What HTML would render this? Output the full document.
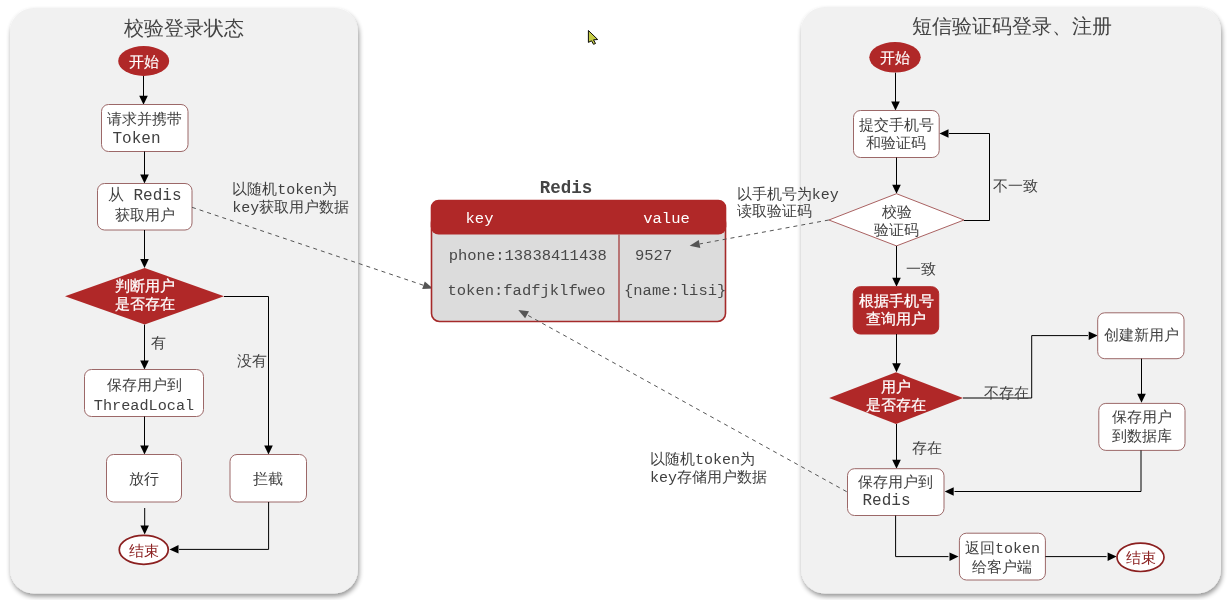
<!DOCTYPE html>
<html><head><meta charset="utf-8"><style>
html,body{margin:0;padding:0;background:#fff;width:1230px;height:600px;overflow:hidden;}
svg{display:block;will-change:transform;}
text{font-family:"Liberation Mono", monospace;}
</style></head><body>
<svg width="1230" height="600" viewBox="0 0 1230 600">
<defs><filter id="sh" x="-5%" y="-5%" width="110%" height="110%"><feGaussianBlur in="SourceAlpha" stdDeviation="2.4"/><feOffset dx="1" dy="2.5" result="b"/><feComponentTransfer><feFuncA type="linear" slope="0.42"/></feComponentTransfer><feMerge><feMergeNode/><feMergeNode in="SourceGraphic"/></feMerge></filter></defs>
<rect width="1230" height="600" fill="#ffffff"/>
<rect x="10" y="8" width="348" height="585.5" rx="24" fill="#f1f1f1" filter="url(#sh)"/>
<rect x="801" y="7" width="420" height="586.5" rx="24" fill="#f1f1f1" filter="url(#sh)"/>
<text x="183.5" y="35" font-size="20" fill="#444" text-anchor="middle" font-weight="normal" font-family="'Liberation Sans', sans-serif">校验登录状态</text>
<text x="1011.7" y="32.5" font-size="20" fill="#444" text-anchor="middle" font-weight="normal" font-family="'Liberation Sans', sans-serif">短信验证码登录、注册</text>
<ellipse cx="143.7" cy="61" rx="25.5" ry="15" fill="#b02828"/>
<text x="143.7" y="66.5" font-size="15" fill="#fff" text-anchor="middle" font-weight="normal" font-family="'Liberation Sans', sans-serif" stroke="#fff" stroke-width="0.15">开始</text>
<polyline points="143.5,76 143.5,96.7" fill="none" stroke="#000" stroke-width="1"/>
<polygon points="143.5,104.7 139.2,95.7 147.8,95.7" fill="#000"/>
<rect x="101.5" y="104.5" width="86.5" height="47.0" rx="7" fill="#ffffff" stroke="#9c6868" stroke-width="1"/>
<text x="144.7" y="123.5" font-size="15" fill="#404040" text-anchor="middle" font-weight="normal" font-family="'Liberation Sans', sans-serif">请求并携带</text>
<text x="112.5" y="143" font-size="16" fill="#404040" text-anchor="start" font-weight="normal" font-family="'Liberation Mono', monospace">Token</text>
<polyline points="144.5,151.5 144.5,175.5" fill="none" stroke="#000" stroke-width="1"/>
<polygon points="144.5,183.5 140.2,174.5 148.8,174.5" fill="#000"/>
<rect x="97.5" y="183.5" width="94.5" height="46.5" rx="7" fill="#ffffff" stroke="#9c6868" stroke-width="1"/>
<text x="144.7" y="199.5" font-size="16" fill="#404040" text-anchor="middle" font-weight="normal" font-family="'Liberation Mono', monospace">从 Redis</text>
<text x="144.7" y="219.5" font-size="15" fill="#404040" text-anchor="middle" font-weight="normal" font-family="'Liberation Sans', sans-serif">获取用户</text>
<polyline points="144.5,230 144.5,260" fill="none" stroke="#000" stroke-width="1"/>
<polygon points="144.5,268.0 140.2,259.0 148.8,259.0" fill="#000"/>
<polygon points="65,296.3 144.7,268 224,296.3 144.7,324.5" fill="#b02828"/>
<text x="144.7" y="291" font-size="15" fill="#fff" text-anchor="middle" font-weight="normal" font-family="'Liberation Sans', sans-serif" stroke="#fff" stroke-width="0.25">判断用户</text>
<text x="144.7" y="309" font-size="15" fill="#fff" text-anchor="middle" font-weight="normal" font-family="'Liberation Sans', sans-serif" stroke="#fff" stroke-width="0.25">是否存在</text>
<polyline points="144.5,324.6 144.5,361.5" fill="none" stroke="#000" stroke-width="1"/>
<polygon points="144.5,369.5 140.2,360.5 148.8,360.5" fill="#000"/>
<text x="158" y="347.5" font-size="15" fill="#404040" text-anchor="middle" font-weight="normal" font-family="'Liberation Sans', sans-serif">有</text>
<polyline points="224,296.5 268.5,296.5 268.5,446" fill="none" stroke="#000" stroke-width="1"/>
<polygon points="268.5,454.5 264.2,445.5 272.8,445.5" fill="#000"/>
<text x="251.5" y="366" font-size="15" fill="#404040" text-anchor="middle" font-weight="normal" font-family="'Liberation Sans', sans-serif">没有</text>
<rect x="84.5" y="369.5" width="119.0" height="47.0" rx="7" fill="#ffffff" stroke="#9c6868" stroke-width="1"/>
<text x="144" y="390" font-size="15" fill="#404040" text-anchor="middle" font-weight="normal" font-family="'Liberation Sans', sans-serif">保存用户到</text>
<text x="144" y="410.3" font-size="15.2" fill="#404040" text-anchor="middle" font-weight="normal" font-family="'Liberation Mono', monospace">ThreadLocal</text>
<polyline points="144.5,416.5 144.5,446.5" fill="none" stroke="#000" stroke-width="1"/>
<polygon points="144.5,454.5 140.2,445.5 148.8,445.5" fill="#000"/>
<rect x="106.5" y="454.5" width="75.0" height="47.5" rx="7" fill="#ffffff" stroke="#9c6868" stroke-width="1"/>
<text x="144" y="484" font-size="15" fill="#404040" text-anchor="middle" font-weight="normal" font-family="'Liberation Sans', sans-serif">放行</text>
<rect x="230" y="454.5" width="76.5" height="47.5" rx="7" fill="#ffffff" stroke="#9c6868" stroke-width="1"/>
<text x="268.3" y="484" font-size="15" fill="#404040" text-anchor="middle" font-weight="normal" font-family="'Liberation Sans', sans-serif">拦截</text>
<polyline points="144.7,508 144.7,526.5" fill="none" stroke="#000" stroke-width="1"/>
<polygon points="144.7,534.5 140.4,525.5 148.9,525.5" fill="#000"/>
<ellipse cx="143.75" cy="549.85" rx="24.5" ry="14.5" fill="#fff" stroke="#8b2020" stroke-width="1.7"/>
<text x="143.75" y="555.5" font-size="15" fill="#8b2020" text-anchor="middle" font-weight="normal" font-family="'Liberation Sans', sans-serif">结束</text>
<polyline points="268.6,502 268.6,549.4 179,549.4" fill="none" stroke="#000" stroke-width="1"/>
<polygon points="169.5,549.4 178.5,545.1 178.5,553.6" fill="#000"/>
<text x="232.3" y="194" font-size="15" fill="#404040" text-anchor="start" font-weight="normal" font-family="'Liberation Mono', monospace">以随机token为</text>
<text x="232.3" y="211.5" font-size="15" fill="#404040" text-anchor="start" font-weight="normal" font-family="'Liberation Mono', monospace">key获取用户数据</text>
<polyline points="192,207.3 423.5234402738757,285.30706784331414" fill="none" stroke="#555" stroke-width="1" stroke-dasharray="4,4"/>
<polygon points="433.0,288.5 422.2,289.1 424.8,281.5" fill="#555"/>
<text x="566" y="192.8" font-size="17.5" fill="#444" text-anchor="middle" font-weight="bold" font-family="'Liberation Mono', monospace">Redis</text>
<rect x="431.5" y="215" width="294" height="106.5" rx="8" fill="#dcdcdc" stroke="#a52a2a" stroke-width="1.6"/>
<rect x="430.7" y="199.7" width="295.6" height="34.8" rx="8" fill="#b02828"/>
<line x1="619" y1="234.6" x2="619" y2="322" stroke="#a03030" stroke-width="1.2"/>
<text x="479.5" y="222.5" font-size="15.5" fill="#fff" text-anchor="middle" font-weight="normal" font-family="'Liberation Mono', monospace">key</text>
<text x="666.5" y="222.5" font-size="15.5" fill="#fff" text-anchor="middle" font-weight="normal" font-family="'Liberation Mono', monospace">value</text>
<text x="448.7" y="260" font-size="15.5" fill="#484848" text-anchor="start" font-weight="normal" font-family="'Liberation Mono', monospace">phone:13838411438</text>
<text x="635" y="260" font-size="15.5" fill="#484848" text-anchor="start" font-weight="normal" font-family="'Liberation Mono', monospace">9527</text>
<text x="447.5" y="295" font-size="15.5" fill="#484848" text-anchor="start" font-weight="normal" font-family="'Liberation Mono', monospace">token:fadfjklfweo</text>
<text x="624" y="295" font-size="15.5" fill="#484848" text-anchor="start" font-weight="normal" font-family="'Liberation Mono', monospace">{name:lisi}</text>
<text x="736.7" y="198.5" font-size="15" fill="#404040" text-anchor="start" font-weight="normal" font-family="'Liberation Mono', monospace">以手机号为key</text>
<text x="736.7" y="215.5" font-size="15" fill="#404040" text-anchor="start" font-weight="normal" font-family="'Liberation Sans', sans-serif">读取验证码</text>
<polyline points="828.8,220 699.5323040478015,243.9763231888334" fill="none" stroke="#555" stroke-width="1" stroke-dasharray="4,4"/>
<polygon points="689.7,245.8 698.8,240.0 700.3,247.9" fill="#555"/>
<polyline points="846.7,491.7 527.0499802173675,314.841264937563" fill="none" stroke="#555" stroke-width="1" stroke-dasharray="4,4"/>
<polygon points="518.3,310.0 529.0,311.3 525.1,318.3" fill="#555"/>
<text x="650" y="463.5" font-size="15" fill="#404040" text-anchor="start" font-weight="normal" font-family="'Liberation Mono', monospace">以随机token为</text>
<text x="650" y="481.5" font-size="15" fill="#404040" text-anchor="start" font-weight="normal" font-family="'Liberation Mono', monospace">key存储用户数据</text>
<ellipse cx="895" cy="57.3" rx="25.7" ry="15.3" fill="#b02828"/>
<text x="895" y="63" font-size="15" fill="#fff" text-anchor="middle" font-weight="normal" font-family="'Liberation Sans', sans-serif" stroke="#fff" stroke-width="0.15">开始</text>
<polyline points="895.5,72.7 895.5,102.5" fill="none" stroke="#000" stroke-width="1"/>
<polygon points="895.5,110.5 891.2,101.5 899.8,101.5" fill="#000"/>
<rect x="853.5" y="110.5" width="85.70000000000005" height="47.0" rx="7" fill="#ffffff" stroke="#9c6868" stroke-width="1"/>
<text x="896.3" y="130" font-size="15" fill="#404040" text-anchor="middle" font-weight="normal" font-family="'Liberation Sans', sans-serif">提交手机号</text>
<text x="896.3" y="148" font-size="15" fill="#404040" text-anchor="middle" font-weight="normal" font-family="'Liberation Sans', sans-serif">和验证码</text>
<polyline points="896.5,157.5 896.5,185.7" fill="none" stroke="#000" stroke-width="1"/>
<polygon points="896.5,193.7 892.2,184.7 900.8,184.7" fill="#000"/>
<polygon points="828.9,220 896.5,193.7 964,220 896.5,245.9" fill="#fff" stroke="#a05050" stroke-width="0.9"/>
<text x="896.5" y="217" font-size="15" fill="#404040" text-anchor="middle" font-weight="normal" font-family="'Liberation Sans', sans-serif">校验</text>
<text x="896.5" y="235" font-size="15" fill="#404040" text-anchor="middle" font-weight="normal" font-family="'Liberation Sans', sans-serif">验证码</text>
<polyline points="964,220.5 989.5,220.5 989.5,133.5 949,133.5" fill="none" stroke="#000" stroke-width="1"/>
<polygon points="939.5,133.5 948.5,129.2 948.5,137.8" fill="#000"/>
<text x="1015" y="191" font-size="15" fill="#404040" text-anchor="middle" font-weight="normal" font-family="'Liberation Sans', sans-serif">不一致</text>
<polyline points="896.5,245.9 896.5,278.7" fill="none" stroke="#000" stroke-width="1"/>
<polygon points="896.5,286.7 892.2,277.7 900.8,277.7" fill="#000"/>
<text x="921" y="273.5" font-size="15" fill="#404040" text-anchor="middle" font-weight="normal" font-family="'Liberation Sans', sans-serif">一致</text>
<rect x="853.2" y="286.7" width="85.5" height="47.30000000000001" rx="7" fill="#b02828" stroke="#b02828" stroke-width="1"/>
<text x="896" y="305.5" font-size="15" fill="#fff" text-anchor="middle" font-weight="normal" font-family="'Liberation Sans', sans-serif" stroke="#fff" stroke-width="0.25">根据手机号</text>
<text x="896" y="324" font-size="15" fill="#fff" text-anchor="middle" font-weight="normal" font-family="'Liberation Sans', sans-serif" stroke="#fff" stroke-width="0.25">查询用户</text>
<polyline points="896.5,334 896.5,364.3" fill="none" stroke="#000" stroke-width="1"/>
<polygon points="896.5,372.3 892.2,363.3 900.8,363.3" fill="#000"/>
<polygon points="829.2,398 896,372.3 963,398 896,424" fill="#b02828"/>
<text x="896" y="391.5" font-size="15" fill="#fff" text-anchor="middle" font-weight="normal" font-family="'Liberation Sans', sans-serif" stroke="#fff" stroke-width="0.25">用户</text>
<text x="896" y="409.5" font-size="15" fill="#fff" text-anchor="middle" font-weight="normal" font-family="'Liberation Sans', sans-serif" stroke="#fff" stroke-width="0.25">是否存在</text>
<polyline points="963,398 1031.7,398 1031.7,335.6 1088,335.6" fill="none" stroke="#000" stroke-width="1"/>
<polygon points="1097.7,335.6 1088.7,331.4 1088.7,339.9" fill="#000"/>
<text x="1006.5" y="398" font-size="15" fill="#404040" text-anchor="middle" font-weight="normal" font-family="'Liberation Sans', sans-serif">不存在</text>
<rect x="1097.7" y="312.8" width="86.29999999999995" height="45.89999999999998" rx="7" fill="#ffffff" stroke="#9c6868" stroke-width="1"/>
<text x="1141" y="340" font-size="15" fill="#404040" text-anchor="middle" font-weight="normal" font-family="'Liberation Sans', sans-serif">创建新用户</text>
<polyline points="1141.5,358.7 1141.5,394.7" fill="none" stroke="#000" stroke-width="1"/>
<polygon points="1141.5,402.7 1137.2,393.7 1145.8,393.7" fill="#000"/>
<rect x="1098.8" y="403.4" width="86.20000000000005" height="47.0" rx="7" fill="#ffffff" stroke="#9c6868" stroke-width="1"/>
<text x="1142" y="422.3" font-size="15" fill="#404040" text-anchor="middle" font-weight="normal" font-family="'Liberation Sans', sans-serif">保存用户</text>
<text x="1142" y="440.5" font-size="15" fill="#404040" text-anchor="middle" font-weight="normal" font-family="'Liberation Sans', sans-serif">到数据库</text>
<polyline points="1141,450.4 1141,491.5 954.5,491.5" fill="none" stroke="#000" stroke-width="1"/>
<polygon points="944.7,491.5 953.7,487.2 953.7,495.8" fill="#000"/>
<polyline points="896.5,424 896.5,460.7" fill="none" stroke="#000" stroke-width="1"/>
<polygon points="896.5,468.7 892.2,459.7 900.8,459.7" fill="#000"/>
<text x="926.7" y="453" font-size="15" fill="#404040" text-anchor="middle" font-weight="normal" font-family="'Liberation Sans', sans-serif">存在</text>
<rect x="847.5" y="468.7" width="96.5" height="46.80000000000001" rx="7" fill="#ffffff" stroke="#9c6868" stroke-width="1"/>
<text x="895.7" y="487" font-size="15" fill="#404040" text-anchor="middle" font-weight="normal" font-family="'Liberation Sans', sans-serif">保存用户到</text>
<text x="862.5" y="504.5" font-size="16" fill="#404040" text-anchor="start" font-weight="normal" font-family="'Liberation Mono', monospace">Redis</text>
<polyline points="895.6,515.5 895.6,556.6 948.5,556.6" fill="none" stroke="#000" stroke-width="1"/>
<polygon points="958.5,556.6 949.5,552.4 949.5,560.9" fill="#000"/>
<rect x="959.4" y="533.2" width="86.00000000000011" height="46.799999999999955" rx="7" fill="#ffffff" stroke="#9c6868" stroke-width="1"/>
<text x="1002.4" y="553" font-size="15" fill="#404040" text-anchor="middle" font-weight="normal" font-family="'Liberation Mono', monospace">返回token</text>
<text x="1002.4" y="572" font-size="15" fill="#404040" text-anchor="middle" font-weight="normal" font-family="'Liberation Sans', sans-serif">给客户端</text>
<polyline points="1045.4,556.6 1106.6,556.6" fill="none" stroke="#000" stroke-width="1"/>
<polygon points="1116.6,556.6 1107.6,552.4 1107.6,560.9" fill="#000"/>
<ellipse cx="1140.5" cy="557.3" rx="23.5" ry="14.2" fill="#fff" stroke="#8b2020" stroke-width="1.7"/>
<text x="1140.5" y="563" font-size="15" fill="#8b2020" text-anchor="middle" font-weight="normal" font-family="'Liberation Sans', sans-serif">结束</text>
<path d="M588.4,30.5 L597.7,39.5 L593.5,39.8 L595.5,43.5 L593.5,44.3 L591.5,40.8 L588.4,42.4 Z" fill="#c5cc45" stroke="#000" stroke-width="0.95" stroke-linejoin="round"/>
</svg>
</body></html>
